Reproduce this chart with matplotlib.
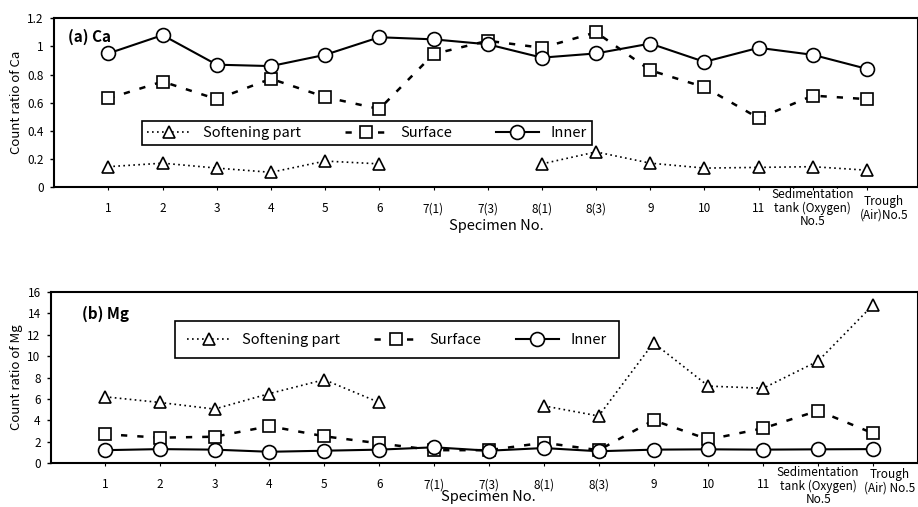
import numpy as np
import matplotlib
matplotlib.use("Agg")
import matplotlib.pyplot as plt
import matplotlib.transforms as mtransforms

plt.rcParams['font.family'] = ['Noto Sans CJK JP', 'DejaVu Sans']

specimens = ["1", "2", "3", "4", "5", "6", "7(1)", "7(3)", "8(1)", "8(3)",
             "9", "10", "11", "Sedimentation\ntank (Oxygen)\nNo.5", "Trough\n(Air)No.5"]
specimens_mg = specimens[:-1] + ["Trough\n(Air) No.5"]

nan = np.nan
# Ca count ratios
ca_soft = [0.145, 0.17, 0.135, 0.105, 0.185, 0.165, nan, nan, 0.165, 0.25,
           0.17, 0.135, 0.14, 0.145, 0.12]
ca_surf = [0.63, 0.75, 0.625, 0.77, 0.64, 0.555, 0.945, 1.04, 0.99, 1.10,
           0.83, 0.71, 0.49, 0.65, 0.625]
ca_inner = [0.95, 1.08, 0.87, 0.86, 0.94, 1.065, 1.05, 1.015, 0.92, 0.95,
            1.02, 0.89, 0.99, 0.94, 0.84]

# Mg count ratios
mg_soft = [6.2, 5.67, 5.05, 6.5, 7.8, 5.67, nan, nan, 5.35, 4.4,
           11.25, 7.2, 7.0, 9.55, 14.8]
mg_surf = [2.7, 2.37, 2.46, 3.45, 2.5, 1.84, 1.2, 1.2, 1.9, 1.2,
           4.0, 2.2, 3.25, 4.9, 2.78]
mg_inner = [1.2, 1.3, 1.25, 1.05, 1.15, 1.25, 1.47, 1.15, 1.4, 1.1,
            1.25, 1.28, 1.25, 1.28, 1.3]

x = np.arange(len(specimens))

fig = plt.figure(figsize=(9.18, 5.07), dpi=100)
ax1 = fig.add_axes([0.059, 0.631, 0.941, 0.333])
ax2 = fig.add_axes([0.0556, 0.0868, 0.9444, 0.337])


def draw(ax, soft, surf, inner, labels, ylim, ystep, ylabel, tag, tag_xy,
         leg_box, leg_pad, xlabel_xy, sed_up, trough_up):
    ms = 9
    ax.plot(x, soft, color='black', linestyle=(0, (1, 2)), linewidth=1.2,
            marker='^', markersize=ms, markerfacecolor='white',
            markeredgecolor='black', markeredgewidth=1.2, label='Softening part')
    ax.plot(x, surf, color='black', linestyle=(0, (2.5, 4)), linewidth=1.8,
            marker='s', markersize=ms, markerfacecolor='white',
            markeredgecolor='black', markeredgewidth=1.2, label='Surface')
    ax.plot(x, inner, color='black', linestyle='-', linewidth=1.5,
            marker='o', markersize=ms + 1, markerfacecolor='white',
            markeredgecolor='black', markeredgewidth=1.2, label='Inner')

    ax.set_ylim(*ylim)
    ax.set_yticks(np.arange(ylim[0], ylim[1] + ystep / 2, ystep))
    ax.set_yticklabels(['{:g}'.format(round(v, 2)) for v in ax.get_yticks()])
    ax.set_xticks(x)
    ax.set_xticklabels(labels, fontsize=8.5, linespacing=1.0)
    ax.tick_params(axis='y', labelsize=8.5, length=3, width=1, pad=4.5)
    ax.tick_params(axis='x', length=2, width=0.8, pad=9)
    for sp in ax.spines.values():
        sp.set_linewidth(1.5)

    # the two long labels sit higher, the last one is pushed right
    lab = ax.get_xticklabels()[-1]
    lab.set_transform(lab.get_transform() +
                      mtransforms.ScaledTranslation(0.17, trough_up, fig.dpi_scale_trans))
    lab = ax.get_xticklabels()[-2]
    lab.set_transform(lab.get_transform() +
                      mtransforms.ScaledTranslation(0, sed_up, fig.dpi_scale_trans))

    ax.set_ylabel(ylabel, fontsize=9.5, labelpad=3)
    ax.set_xlabel('Specimen No.', fontsize=10.5)
    ax.xaxis.set_label_coords(*xlabel_xy)
    ax.text(tag_xy[0], tag_xy[1], tag, transform=ax.transAxes, fontsize=11,
            fontweight='bold', va='center')

    leg = ax.legend(loc='center', bbox_to_anchor=leg_box, mode='expand', ncol=3,
                    frameon=True, fancybox=False, edgecolor='black',
                    fontsize=10.5, handlelength=3.0, borderaxespad=0,
                    borderpad=leg_pad)
    leg.get_frame().set_linewidth(1.2)
    leg.get_frame().set_alpha(1)


ax1.set_xlim(-1.0, 14.94)
ax2.set_xlim(-0.98, 14.82)

draw(ax1, ca_soft, ca_surf, ca_inner, specimens, (0, 1.2), 0.2,
     'Count ratio of Ca', '(a) Ca', (0.016, 0.89),
     (0.102, 0.237, 0.521, 0.171), 0.35, (0.512, -0.19), 0.14, 0.07)
draw(ax2, mg_soft, mg_surf, mg_inner, specimens_mg, (0, 16), 2,
     'Count ratio of Mg', '(b) Mg', (0.036, 0.875),
     (0.143, 0.608, 0.512, 0.228), 0.8, (0.505, -0.16), 0.12, 0.1)

fig.savefig('out.png', dpi=100)
